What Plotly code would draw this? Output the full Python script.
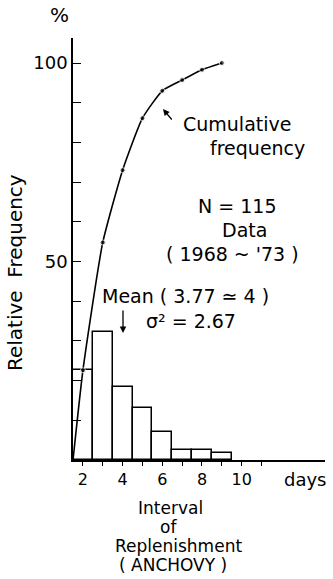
import plotly.graph_objects as go

# ---- data ----
days = [2, 3, 4, 5, 6, 7, 8, 9]
rel_freq = [22.6, 32.2, 18.3, 13.0, 7.0, 2.6, 2.6, 1.7]
cum_x = [1.5, 2, 3, 4, 5, 6, 7, 8, 9]
cum_y = [0, 22.6, 54.8, 73.0, 86.1, 93.0, 95.7, 98.3, 100.0]
y_tickvals = [10, 20, 30, 40, 50, 60, 70, 80, 90, 100]
y_ticktext = ["", "", "", "", "50", "", "", "", "", "100"]
x_tickvals = [2, 3, 4, 5, 6, 7, 8, 9, 10, 11]
x_ticktext = ["2", "", "4", "", "6", "", "8", "", "10", ""]

W, H = 333, 579
ML, MR, MT, MB = 73, 8, 38, 119
XR = [1.5, 14.2]
YR = [0, 106.3]
FONT = "DejaVu Sans"


def dx(px):
    return XR[0] + (px - ML) / (W - ML - MR) * (XR[1] - XR[0])


def dy(py):
    return YR[0] + (H - MB - py) / (H - MT - MB) * (YR[1] - YR[0])


def pxp(px):
    return (px - ML) / (W - ML - MR)


def pyp(py):
    return (H - MB - py) / (H - MT - MB)


fig = go.Figure()
fig.add_trace(go.Bar(
    x=days, y=rel_freq, width=1,
    marker=dict(color="white", line=dict(color="black", width=1.5)),
    showlegend=False,
))
fig.add_trace(go.Scatter(
    x=cum_x, y=cum_y, mode="lines+markers",
    line=dict(color="black", width=1.6, shape="spline", smoothing=0.5),
    marker=dict(color="black", size=[0] + [5] * (len(cum_x) - 1)),
    showlegend=False, cliponaxis=False,
))

ann = []


def txt(t, px, py, size=19, angle=0):
    ann.append(dict(text=t, x=pxp(px), y=pyp(py), xref="paper", yref="paper",
                    showarrow=False, xanchor="center", yanchor="middle",
                    textangle=angle,
                    font=dict(family=FONT, size=size, color="black")))


txt("Cumulative", 237, 124)
txt("frequency", 257, 148)
txt("N = 115", 237, 206)
txt("Data", 244, 230)
txt("( 1968 ~ '73 )", 232, 254)
txt("Mean ( 3.77 ≃ 4 )", 185, 296)
txt("σ² = 2.67", 191, 321)
txt("days", 305, 479, size=18)
txt("%", 59, 15, size=20)
txt("Relative  Frequency", 15, 273, size=20, angle=-90)
txt("Interval", 170, 508, size=17)
txt("of", 168, 527, size=17)
txt("Replenishment", 178, 546, size=17)
txt("( ANCHOVY )", 173, 565, size=17)

# arrows
ann.append(dict(x=dx(163), y=dy(109), xref="x", yref="y", ax=10, ay=12,
                showarrow=True, arrowhead=2, arrowsize=1, arrowwidth=1.3,
                arrowcolor="black", text=""))
ann.append(dict(x=dx(123), y=dy(333), xref="x", yref="y", ax=0, ay=-24,
                showarrow=True, arrowhead=2, arrowsize=1, arrowwidth=1.3,
                arrowcolor="black", text=""))

fig.update_layout(
    width=W, height=H,
    margin=dict(l=ML, r=MR, t=MT, b=MB, pad=0),
    paper_bgcolor="white", plot_bgcolor="white",
    bargap=0,
    annotations=ann,
    xaxis=dict(range=XR, showgrid=False, zeroline=False, showline=True,
               linecolor="black", linewidth=1.5, ticks="outside", ticklen=4,
               tickwidth=1.2, tickcolor="black", tickvals=x_tickvals,
               ticktext=x_ticktext,
               tickfont=dict(family=FONT, size=16, color="black")),
    yaxis=dict(range=YR, showgrid=False, zeroline=False, showline=True,
               linecolor="black", linewidth=1.5, ticks="inside", ticklen=8,
               tickwidth=1.2, tickcolor="black", tickvals=y_tickvals,
               ticktext=y_ticktext,
               tickfont=dict(family=FONT, size=18, color="black")),
)

fig.write_html("out.html")
